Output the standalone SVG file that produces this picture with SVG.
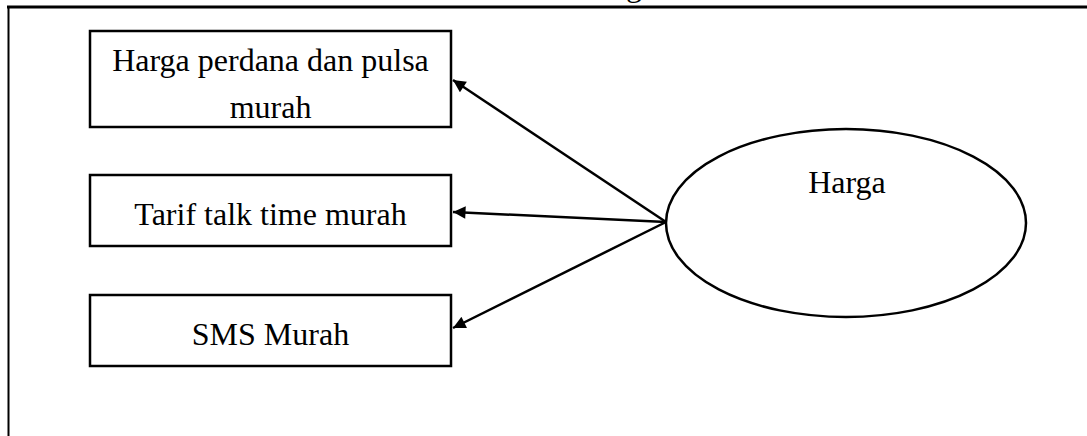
<svg xmlns="http://www.w3.org/2000/svg" width="1087" height="436" viewBox="0 0 1087 436">
<style>
.t{font-family:"Liberation Serif","Times New Roman",serif;font-size:32px;fill:#000}
.box{fill:#fff;stroke:#000;stroke-width:2.5}
.edge{stroke:#000;stroke-width:2.5;fill:none}
</style>
<defs>
<marker id="ah" viewBox="0 0 10 10" refX="10" refY="5" markerWidth="6.5" markerHeight="5" markerUnits="strokeWidth" orient="auto">
<path d="M0,0 L10,5 L0,10 z" fill="#000"/>
</marker>
</defs>
<rect width="1087" height="436" fill="#fff"/>
<g id="frame">
<text class="t" x="626" y="-4">g</text>
<line x1="7" y1="7" x2="1087" y2="7" stroke="#000" stroke-width="3"/>
<line x1="8.5" y1="6" x2="8.5" y2="436" stroke="#000" stroke-width="2"/>
</g>
<g id="n1">
<rect class="box" x="90" y="31" width="361" height="96"/>
<text class="t" x="270.5" y="71" text-anchor="middle">Harga perdana dan pulsa</text>
<text class="t" x="270.5" y="118" text-anchor="middle">murah</text>
</g>
<g id="n2">
<rect class="box" x="90" y="175" width="361" height="71"/>
<text class="t" x="270.5" y="225" text-anchor="middle">Tarif talk time murah</text>
</g>
<g id="n3">
<rect class="box" x="90" y="295" width="361" height="71"/>
<text class="t" x="270.5" y="345" text-anchor="middle">SMS Murah</text>
</g>
<g id="harga">
<ellipse cx="846" cy="223" rx="180" ry="94" fill="#fff" stroke="#000" stroke-width="2.5"/>
<text class="t" x="847" y="193" text-anchor="middle">Harga</text>
</g>
<g id="connectors">
<line class="edge" x1="666" y1="222" x2="453" y2="80" marker-end="url(#ah)"/>
<line class="edge" x1="666" y1="222" x2="453" y2="212" marker-end="url(#ah)"/>
<line class="edge" x1="666" y1="222" x2="453" y2="328" marker-end="url(#ah)"/>
</g>
</svg>
